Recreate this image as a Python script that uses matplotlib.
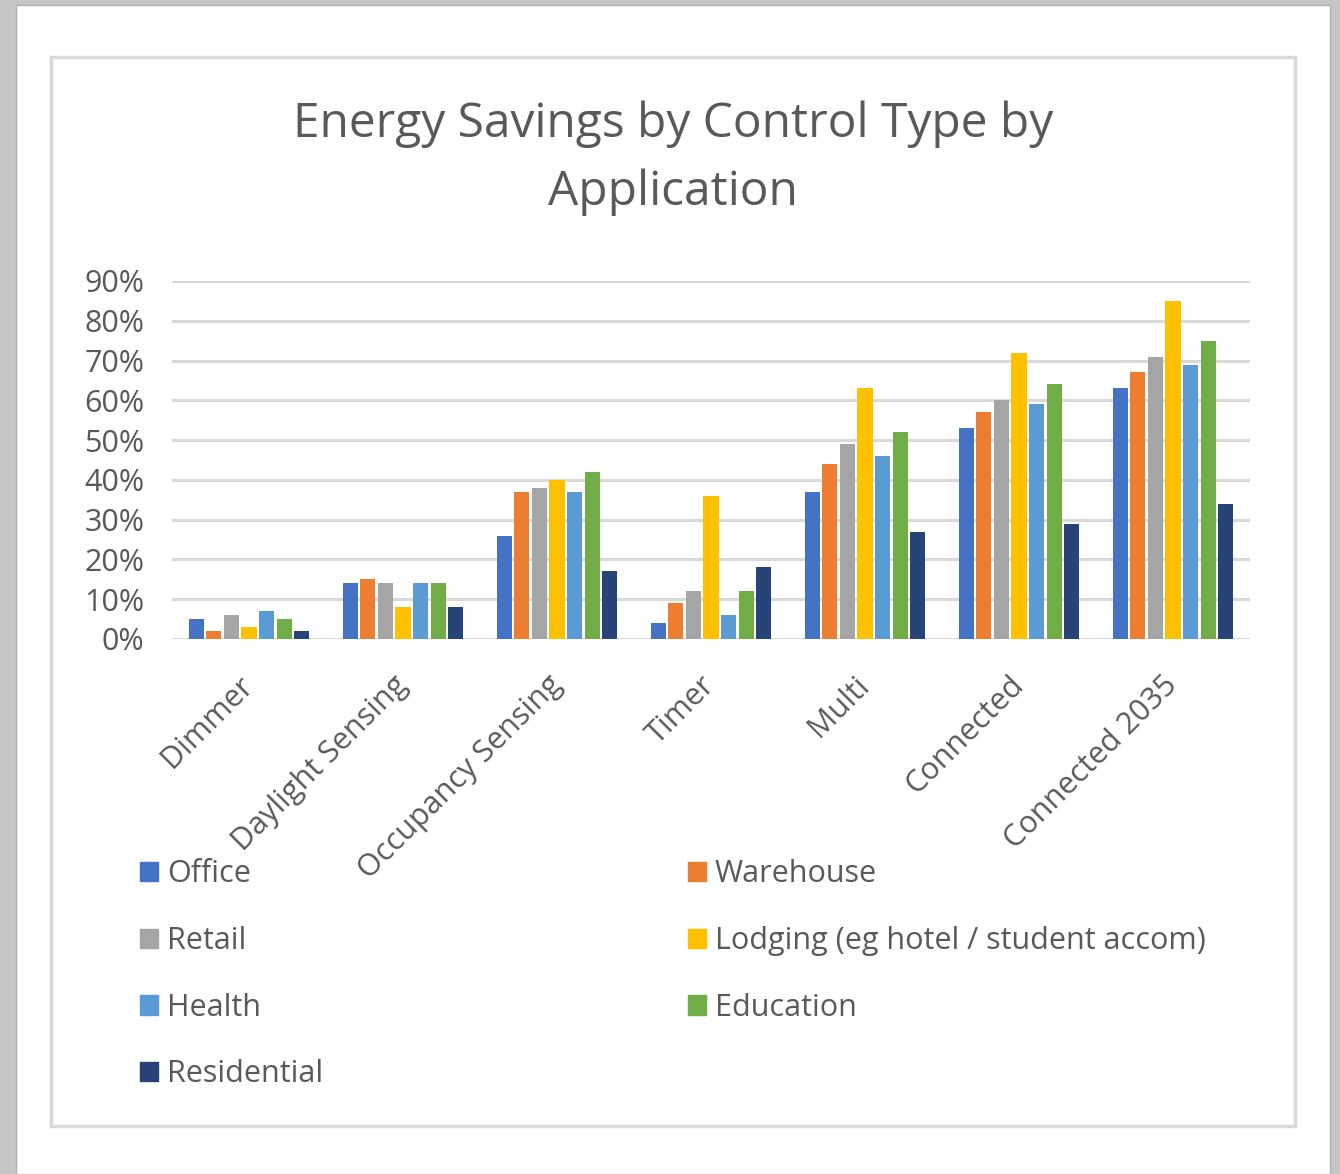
import matplotlib.pyplot as plt
import matplotlib.patches as mpatches
import numpy as np

plt.rcParams['font.family'] = ['Open Sans', 'DejaVu Sans']

# Data
categories = ['Dimmer', 'Daylight Sensing', 'Occupancy Sensing', 'Timer',
              'Multi', 'Connected', 'Connected 2035']
series = ['Office', 'Warehouse', 'Retail', 'Lodging (eg hotel / student accom)',
          'Health', 'Education', 'Residential']
office = [5, 14, 26, 4, 37, 53, 63]
warehouse = [2, 15, 37, 9, 44, 57, 67]
retail = [6, 14, 38, 12, 49, 60, 71]
lodging = [3, 8, 40, 36, 63, 72, 85]
health = [7, 14, 37, 6, 46, 59, 69]
education = [5, 14, 42, 12, 52, 64, 75]
residential = [2, 8, 17, 18, 27, 29, 34]
values = [office, warehouse, retail, lodging, health, education, residential]
colors = ['#4472C4', '#ED7D31', '#A5A5A5', '#FFC000', '#5B9BD5', '#70AD47', '#264478']

fig = plt.figure(figsize=(13.4, 11.74), dpi=100, facecolor='#c6c6c6')

# Page and chart frame
W, H = 1340, 1174
fig.patches.append(mpatches.Rectangle((16 / W, 0), (1330 - 16) / W, (H - 5) / H,
                                      transform=fig.transFigure, facecolor='white',
                                      edgecolor='#b0b0b0', lw=1, zorder=-2))
fig.patches.append(mpatches.Rectangle((51 / W, 1 - 1126 / H), (1295 - 51) / W, (1126 - 57) / H,
                                      transform=fig.transFigure, facecolor='white',
                                      edgecolor='#d9d9d9', lw=2.5, zorder=-1))

ax = fig.add_axes([172 / W, 1 - 639 / H, (1250 - 172) / W, (639 - 281) / H])
ax.set_facecolor('none')

x = np.arange(len(categories))
slot = 1 / 8.75
for i, (vals, c) in enumerate(zip(values, colors)):
    ax.bar(x + (i - 3) * slot, np.array(vals) / 100, width=slot * 0.86,
           color=c, label=series[i], zorder=3)

ax.set_xlim(-0.5, len(categories) - 0.5)
ax.set_ylim(0, 0.9)
ax.set_yticks(np.arange(0, 0.91, 0.1))
ax.set_yticklabels([f'{int(round(v * 100))}%' for v in np.arange(0, 0.91, 0.1)])
ax.grid(axis='y', color='#d9d9d9', lw=2.2, zorder=0)
for s in ax.spines.values():
    s.set_visible(False)
ax.tick_params(axis='both', length=0, labelsize=22, labelcolor='#595959')
ax.tick_params(axis='y', pad=20)
ax.set_xticks(x)
ax.set_xticklabels(categories, rotation=45, ha='right', va='center',
                   rotation_mode='anchor')
ax.tick_params(axis='x', pad=30)

fig.text(673 / W, 1 - 158 / H, 'Energy Savings by Control Type by\nApplication',
         ha='center', va='center', fontsize=34.5, color='#595959', linespacing=1.55)

# Legend (row-wise order, two columns)
handles = [mpatches.Patch(color=c) for c in colors]
leg_kw = dict(loc='upper left', frameon=False, fontsize=22, handlelength=0.6,
              handleheight=0.6, handletextpad=0.3, labelspacing=1.2,
              labelcolor='#595959')
fig.legend([handles[i] for i in (0, 2, 4, 6)], [series[i] for i in (0, 2, 4, 6)],
           bbox_to_anchor=(112 / W, 1 - 832 / H), **leg_kw)
fig.legend([handles[i] for i in (1, 3, 5)], [series[i] for i in (1, 3, 5)],
           bbox_to_anchor=(660 / W, 1 - 832 / H), **leg_kw)

plt.savefig('out.png', dpi=100, facecolor=fig.get_facecolor())
